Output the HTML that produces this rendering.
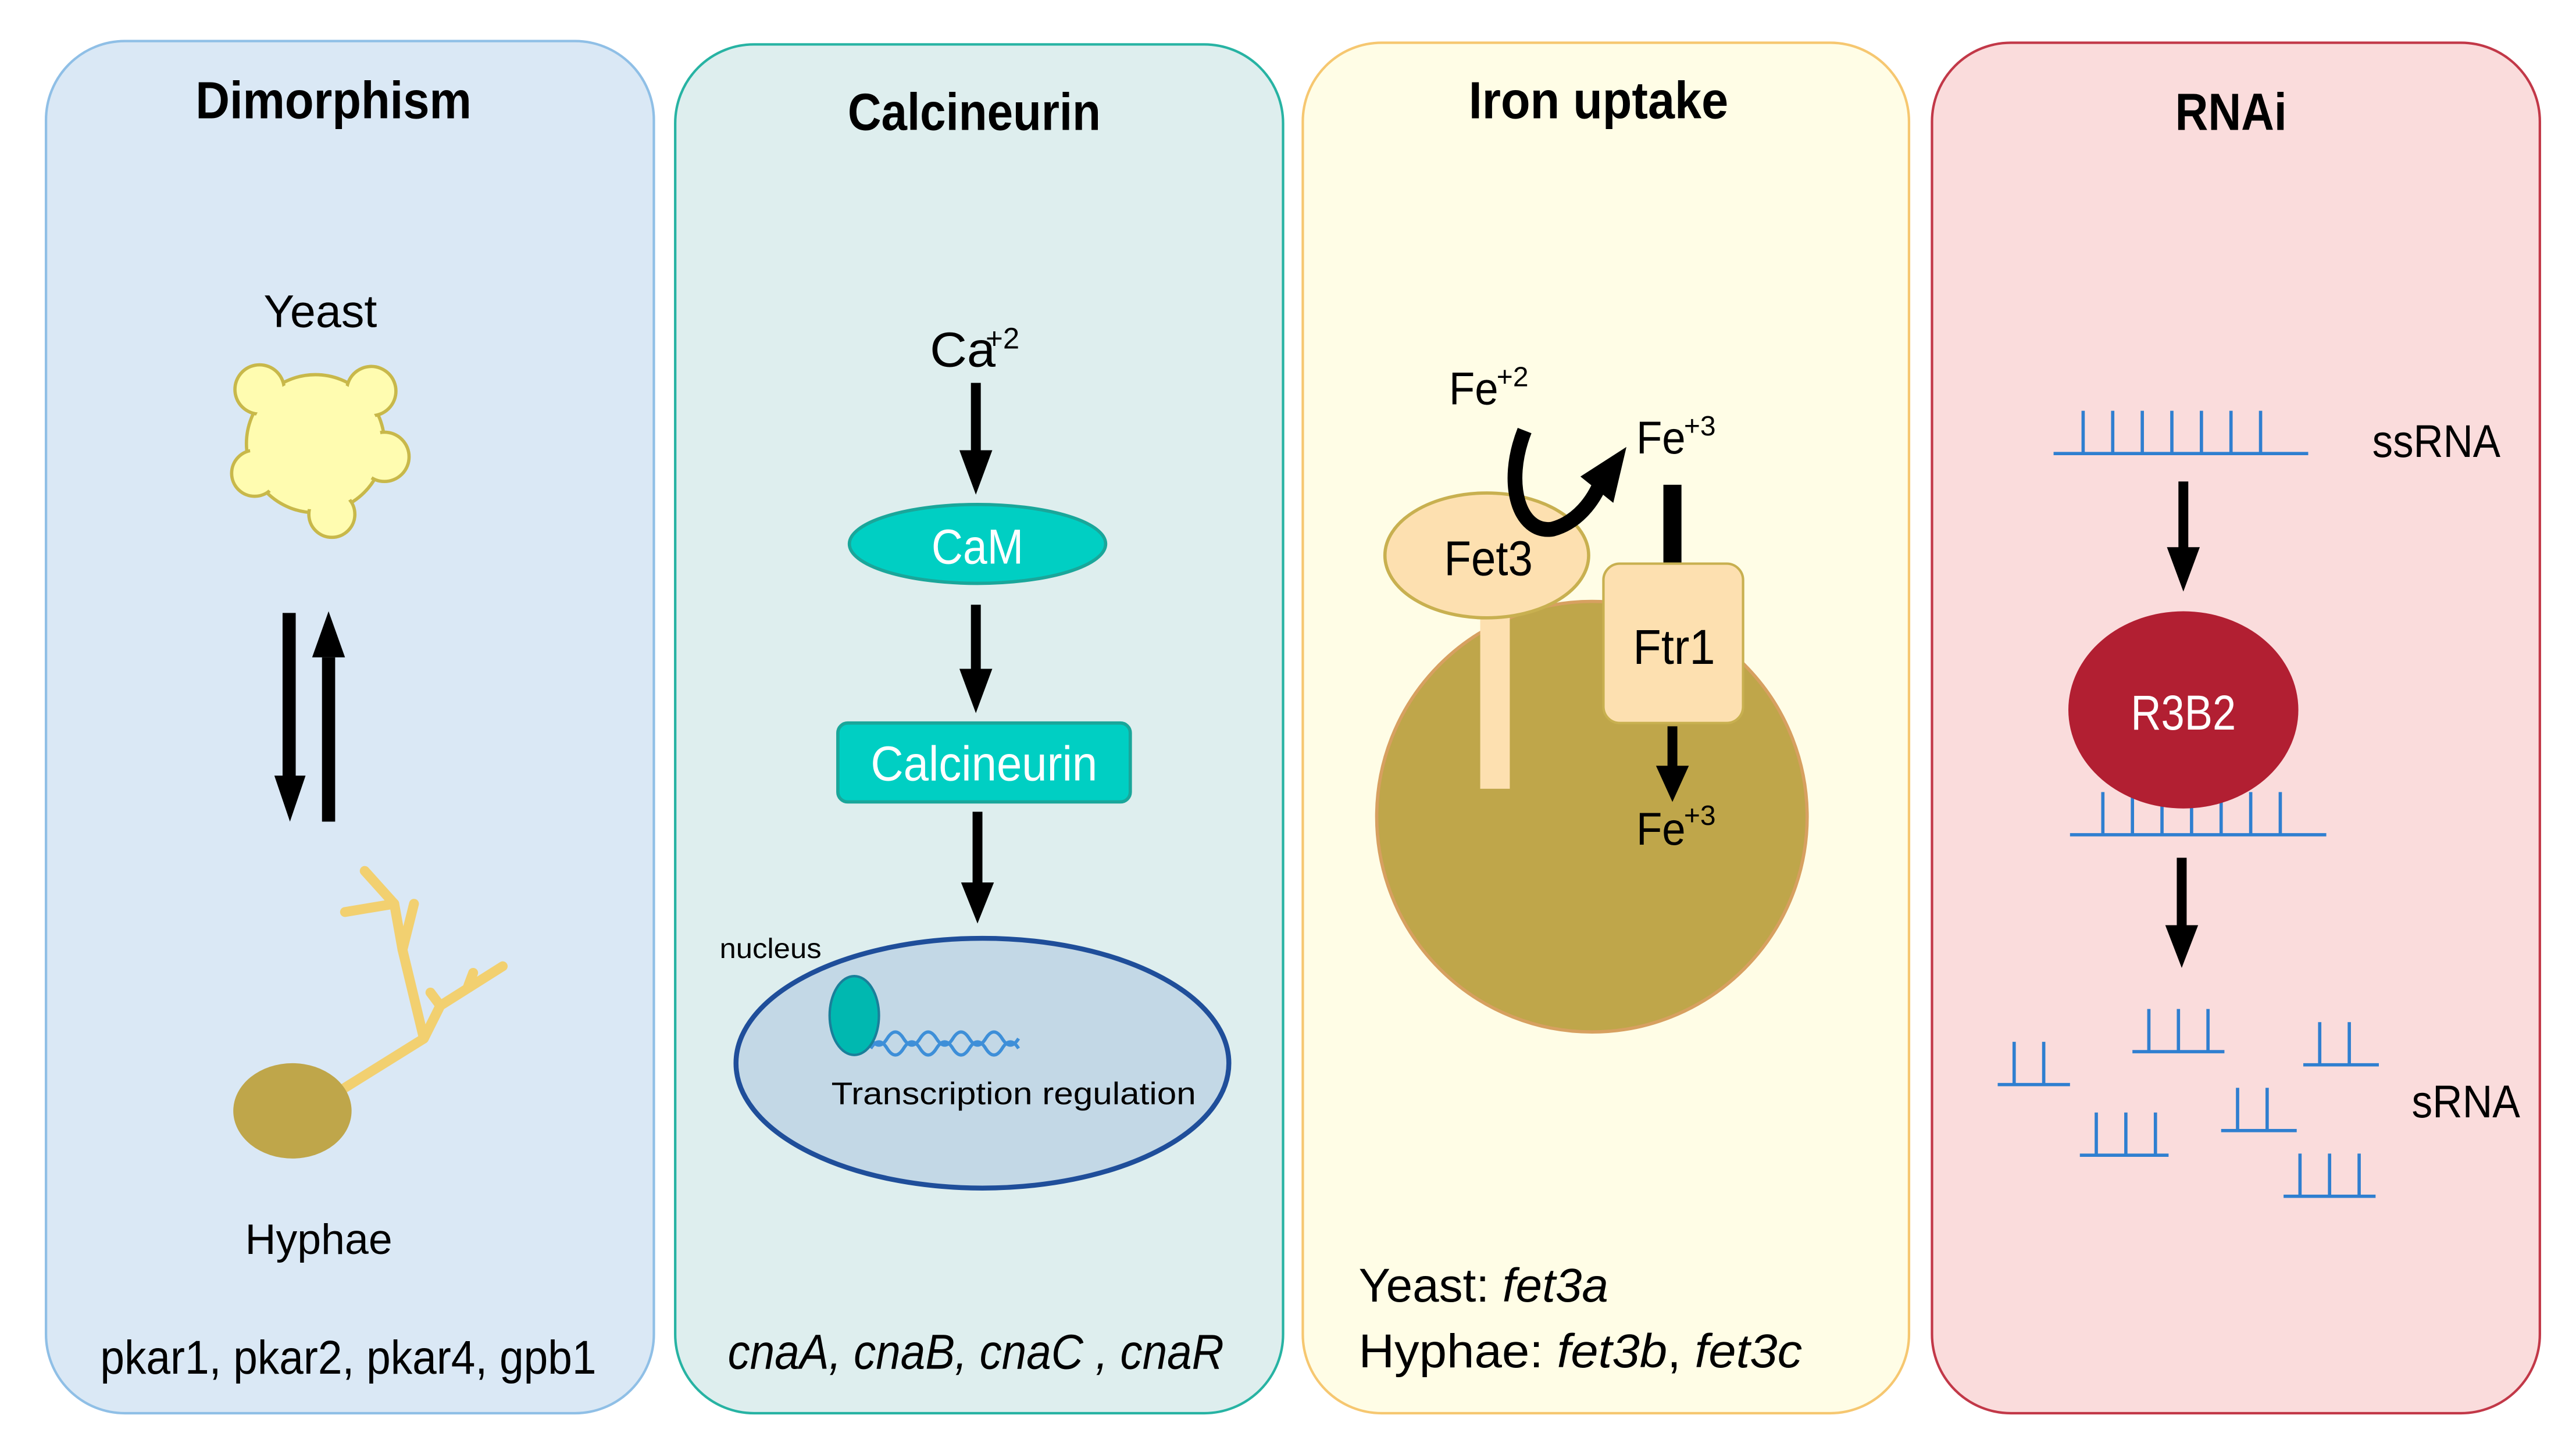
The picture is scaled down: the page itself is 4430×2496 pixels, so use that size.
<!DOCTYPE html>
<html><head><meta charset="utf-8"><style>
html,body{margin:0;padding:0;background:#fff}
svg{display:block}
text{font-family:"Liberation Sans",Arial,sans-serif}
</style></head><body>
<svg width="4430" height="2496" viewBox="0 0 1568 883" preserveAspectRatio="none" xmlns="http://www.w3.org/2000/svg">
<!-- panels -->
<rect x="28" y="25" width="370" height="835" rx="48" fill="#dae8f5" stroke="#8fbfe6" stroke-width="1.5"/>
<rect x="411" y="27" width="370" height="833" rx="48" fill="#deeeee" stroke="#27b3a3" stroke-width="1.5"/>
<rect x="793" y="26" width="369" height="834" rx="48" fill="#fffde6" stroke="#f6c770" stroke-width="1.5"/>
<rect x="1176" y="26" width="370" height="834" rx="48" fill="#fadcdc" stroke="#c23848" stroke-width="1.5"/>

<!-- titles -->
<text x="203" y="72" font-size="32" font-weight="bold" text-anchor="middle" textLength="168" lengthAdjust="spacingAndGlyphs">Dimorphism</text>
<text x="593" y="79" font-size="32" font-weight="bold" text-anchor="middle" textLength="154" lengthAdjust="spacingAndGlyphs">Calcineurin</text>
<text x="973" y="72" font-size="32" font-weight="bold" text-anchor="middle" textLength="158" lengthAdjust="spacingAndGlyphs">Iron uptake</text>
<text x="1358" y="79" font-size="32" font-weight="bold" text-anchor="middle" textLength="68" lengthAdjust="spacingAndGlyphs">RNAi</text>

<!-- Panel 1 -->
<text x="195" y="199" font-size="28" text-anchor="middle">Yeast</text>
<g fill="#fffcb0" stroke="#c8b84a" stroke-width="2">
<circle cx="192" cy="270" r="42"/>
<circle cx="158" cy="237" r="15"/>
<circle cx="226" cy="238" r="15"/>
<circle cx="234" cy="278" r="15"/>
<circle cx="155" cy="288" r="14"/>
<circle cx="202" cy="313" r="14"/>
</g>
<g fill="#fffcb0"><circle cx="192" cy="270" r="40"/></g>
<path d="M176 373 V475" stroke="#000" stroke-width="8"/>
<polygon points="167,472 186,472 176.5,500" fill="#000"/>
<path d="M200 400 V500" stroke="#000" stroke-width="8"/>
<polygon points="190,400 210,400 200,372" fill="#000"/>
<g fill="none" stroke="#f2d070" stroke-width="6" stroke-linecap="round" stroke-linejoin="round">
<path d="M205 665 L258 632 L268 612 L306 588"/>
<path d="M258 632 L245 578 L240 550 L222 530"/>
<path d="M245 578 L252 550"/>
<path d="M210 555 L240 550"/>
<path d="M268 612 L262 604"/>
<path d="M285 600 L288 592"/>
</g>
<ellipse cx="178" cy="676" rx="36" ry="29" fill="#bfa64a"/>
<text x="194" y="763" font-size="26" text-anchor="middle">Hyphae</text>
<text x="212" y="836" font-size="29" text-anchor="middle" textLength="302" lengthAdjust="spacingAndGlyphs">pkar1, pkar2, pkar4, gpb1</text>

<!-- Panel 2 -->
<text x="566" y="223" font-size="30" textLength="40" lengthAdjust="spacingAndGlyphs">Ca</text>
<text x="600" y="212" font-size="18">+2</text>
<path d="M594 233 V275" stroke="#000" stroke-width="6"/><polygon points="584,274 604,274 594,301" fill="#000"/>
<ellipse cx="595" cy="331" rx="78" ry="24" fill="#00cfc3" stroke="#1aa69a" stroke-width="2"/>
<text x="595" y="343" font-size="30" fill="#fff" text-anchor="middle" textLength="56" lengthAdjust="spacingAndGlyphs">CaM</text>
<path d="M594 368 V408" stroke="#000" stroke-width="6"/><polygon points="584,407 604,407 594,434" fill="#000"/>
<rect x="510" y="440" width="178" height="48" rx="6" fill="#00cfc3" stroke="#1aa69a" stroke-width="2"/>
<text x="599" y="475" font-size="30" fill="#fff" text-anchor="middle" textLength="138" lengthAdjust="spacingAndGlyphs">Calcineurin</text>
<path d="M595 494 V538" stroke="#000" stroke-width="6"/><polygon points="585,537 605,537 595,562" fill="#000"/>
<text x="438" y="583" font-size="17" textLength="62" lengthAdjust="spacingAndGlyphs">nucleus</text>
<ellipse cx="598" cy="647" rx="150" ry="76" fill="#c3d8e6" stroke="#1f4e9a" stroke-width="3"/>
<path d="M530 638 q5 -8 10 0 t10 0 t10 0 t10 0 t10 0 t10 0 t10 0 t10 0 t10 0" fill="none" stroke="#3e8fd8" stroke-width="2"/>
<path d="M530 632 q5 8 10 0 t10 0 t10 0 t10 0 t10 0 t10 0 t10 0 t10 0 t10 0" fill="none" stroke="#3e8fd8" stroke-width="2"/>
<ellipse cx="520" cy="618" rx="15" ry="24" fill="#00b8b0" stroke="#1a7f9a" stroke-width="1.5"/>
<text x="617" y="672" font-size="19" text-anchor="middle" textLength="222" lengthAdjust="spacingAndGlyphs">Transcription regulation</text>
<text x="594" y="833" font-size="30" font-style="italic" text-anchor="middle" textLength="302" lengthAdjust="spacingAndGlyphs">cnaA, cnaB, cnaC , cnaR</text>

<!-- Panel 3 -->
<circle cx="969" cy="497" r="131" fill="#bfa64a" stroke="#d7a060" stroke-width="2"/>
<rect x="901" y="360" width="18" height="120" fill="#fde0b0"/>
<ellipse cx="905" cy="338" rx="62" ry="38" fill="#fde0b0" stroke="#c8b050" stroke-width="2"/>
<text x="906" y="350" font-size="30" text-anchor="middle" textLength="54" lengthAdjust="spacingAndGlyphs">Fet3</text>
<path d="M1018 295 V345" stroke="#000" stroke-width="11"/>
<rect x="976" y="343" width="85" height="97" rx="10" fill="#fde0b0" stroke="#c8b050" stroke-width="1.5"/>
<text x="1019" y="404" font-size="30" text-anchor="middle" textLength="50" lengthAdjust="spacingAndGlyphs">Ftr1</text>
<path d="M1018 442 V468" stroke="#000" stroke-width="6"/><polygon points="1008,466 1028,466 1018,488" fill="#000"/>
<text x="996" y="514" font-size="28" textLength="30" lengthAdjust="spacingAndGlyphs">Fe</text>
<text x="1025" y="502" font-size="17">+3</text>
<text x="882" y="246" font-size="28" textLength="30" lengthAdjust="spacingAndGlyphs">Fe</text>
<text x="911" y="235" font-size="17">+2</text>
<text x="996" y="276" font-size="28" textLength="30" lengthAdjust="spacingAndGlyphs">Fe</text>
<text x="1025" y="265" font-size="17">+3</text>
<path d="M928 262 C915 295 925 325 945 322 C960 318 970 305 975 292" fill="none" stroke="#000" stroke-width="9"/>
<polygon points="962,290 990,272 982,306" fill="#000"/>
<text x="827" y="792" font-size="29" textLength="152" lengthAdjust="spacingAndGlyphs">Yeast: <tspan font-style="italic">fet3a</tspan></text>
<text x="827" y="832" font-size="29" textLength="270" lengthAdjust="spacingAndGlyphs">Hyphae: <tspan font-style="italic">fet3b</tspan>, <tspan font-style="italic">fet3c</tspan></text>

<!-- Panel 4 -->
<g stroke="#2f7fd0" stroke-width="2" fill="none">
<path d="M1250 276 H1405"/>
<path d="M1268 276 V250 M1286 276 V250 M1304 276 V250 M1322 276 V250 M1340 276 V250 M1358 276 V250 M1376 276 V250"/>
<path d="M1260 508 H1416"/>
<path d="M1280 508 V482 M1298 508 V482 M1316 508 V482 M1334 508 V482 M1352 508 V482 M1370 508 V482 M1388 508 V482"/>
<path d="M1216 660 H1260 M1226 660 V634 M1244 660 V634"/>
<path d="M1298 640 H1354 M1308 640 V614 M1326 640 V614 M1344 640 V614"/>
<path d="M1402 648 H1448 M1412 648 V622 M1430 648 V622"/>
<path d="M1266 703 H1320 M1276 703 V677 M1294 703 V677 M1312 703 V677"/>
<path d="M1352 688 H1398 M1362 688 V662 M1380 688 V662"/>
<path d="M1390 728 H1446 M1400 728 V702 M1418 728 V702 M1436 728 V702"/>
</g>
<text x="1444" y="278" font-size="28" textLength="78" lengthAdjust="spacingAndGlyphs">ssRNA</text>
<path d="M1329 293 V335" stroke="#000" stroke-width="6"/><polygon points="1319,333 1339,333 1329,360" fill="#000"/>
<ellipse cx="1329" cy="432" rx="70" ry="60" fill="#b21f32"/>
<text x="1329" y="444" font-size="30" fill="#fff" text-anchor="middle" textLength="64" lengthAdjust="spacingAndGlyphs">R3B2</text>
<path d="M1328 522 V565" stroke="#000" stroke-width="6"/><polygon points="1318,563 1338,563 1328,589" fill="#000"/>
<text x="1468" y="680" font-size="28" textLength="66" lengthAdjust="spacingAndGlyphs">sRNA</text>
</svg>
</body></html>
